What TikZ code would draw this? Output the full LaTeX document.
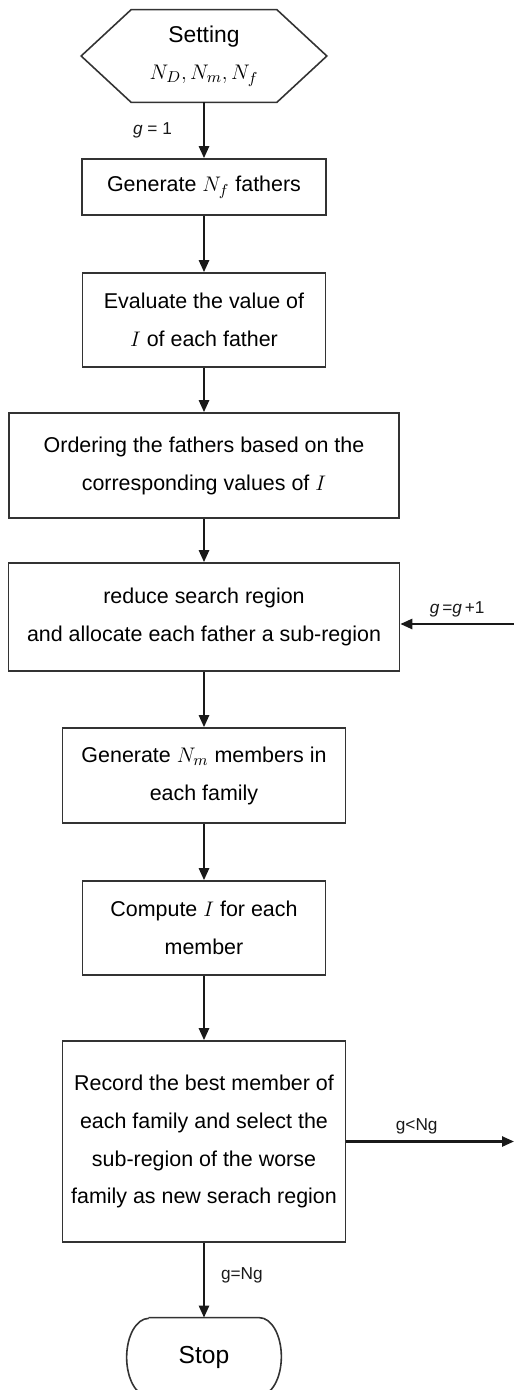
\documentclass[tikz,border=0pt]{standalone}
\usepackage{fontspec}
\setmainfont{Liberation Sans}
\usetikzlibrary{positioning,arrows.meta}

\begin{document}
\begin{tikzpicture}[>={Triangle[length=2.4mm,width=2mm]},
  box/.style={draw=black!80,line width=0.9pt,align=center,font=\fontsize{12.2}{21.6}\selectfont},
  flow/.style={->,line width=1.4pt,black!90},
  lbl/.style={font=\fontsize{9.8}{12}\selectfont}]
  \useasboundingbox (0,0) rectangle (10.28,-27.8);
  \node[align=center,minimum width=2.9cm,minimum height=1.84cm,inner sep=0pt,
        font=\fontsize{13}{21}\selectfont] (set) at (4.08,-1.12) {Setting\\ $N_D,N_m,N_f$};
  \draw[draw=black!80,line width=0.9pt] (set.north west) -- (set.north east) -- ([xshift=1cm]set.east)
    -- (set.south east) -- (set.south west) -- ([xshift=-1cm]set.west) -- cycle;
  \node[box,minimum width=4.88cm,minimum height=1.12cm] (gen) at (4.08,-3.74) {Generate $N_f$ fathers};
  \node[box,minimum width=4.86cm,minimum height=1.88cm] (eval) at (4.08,-6.40) {Evaluate the value of\\ $I$ of each father};
  \node[box,minimum width=7.8cm,minimum height=2.1cm] (order) at (4.08,-9.31) {Ordering the fathers based on the\\ corresponding values of $I$};
  \node[box,minimum width=7.82cm,minimum height=2.16cm] (reduce) at (4.08,-12.34) {reduce search region\\ and allocate each father a sub-region};
  \node[box,minimum width=5.66cm,minimum height=1.9cm] (members) at (4.08,-15.51) {Generate $N_m$ members in\\ each family};
  \node[box,minimum width=4.86cm,minimum height=1.88cm] (compute) at (4.08,-18.56) {Compute $I$ for each\\ member};
  \node[box,minimum width=5.66cm,minimum height=4.02cm] (record) at (4.08,-22.83) {Record the best member of\\ each family and select the\\ sub-region of the worse\\ family as new serach region};
  \node[minimum width=2.2cm,minimum height=1.56cm,inner sep=0pt,font=\fontsize{14}{16}\selectfont] (stop) at (4.08,-27.14) {Stop};
  \draw[draw=black!80,line width=0.9pt] (stop.north west) -- (stop.north east)
    arc[start angle=90,end angle=-90,x radius=0.44cm,y radius=0.78cm] -- (stop.south west)
    arc[start angle=270,end angle=90,x radius=0.44cm,y radius=0.78cm];
  \coordinate (back) at (10.28,-12.48);
  \coordinate (loop) at (10.28,-22.83);
  \draw[flow] (set.south) -- (gen.north) node[midway,left=0.5cm,lbl]{\textit{g} = 1};
  \draw[flow] (gen) -- (eval);
  \draw[flow] (eval) -- (order);
  \draw[flow] (order) -- (reduce);
  \draw[flow] (reduce) -- (members);
  \draw[flow] (members) -- (compute);
  \draw[flow] (compute) -- (record);
  \draw[flow] (record) -- (stop.north) node[midway,right=0.2cm,yshift=0.1cm,lbl]{g=Ng};
  \draw[flow] (record.east) -- (loop) node[pos=0.42,above,lbl]{g<Ng};
  \draw[flow] (back) -- (back -| reduce.east) node[midway,above,lbl]{\textit{g}\,=\textit{g}\,+1};
\end{tikzpicture}
\end{document}
